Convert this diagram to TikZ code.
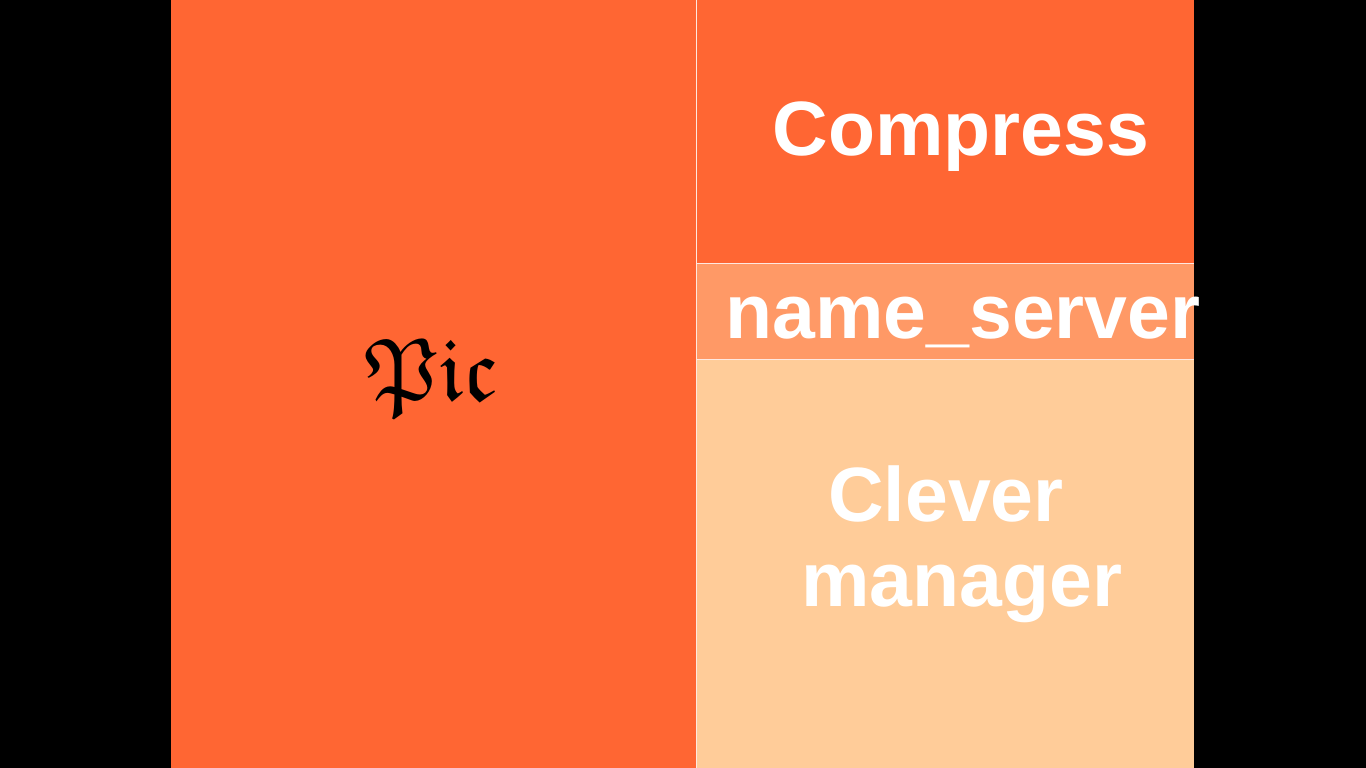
\documentclass[tikz,border=0pt]{standalone}
\usepackage{amssymb}
\usepackage{fontspec}
\setmainfont{Liberation Sans}
\definecolor{orangeA}{HTML}{FF6633}
\definecolor{orangeB}{HTML}{FF9966}
\definecolor{orangeC}{HTML}{FFCC99}
\tikzset{
  panel/.style={draw=none,inner sep=0pt,outer sep=0pt,anchor=north west},
  bigtext/.style={text=white,inner sep=0pt,anchor=base,font=\fontsize{77}{86}\selectfont\bfseries},
  divider/.style={draw=white!85!orangeA,line width=1pt}
}
\begin{document}
\begin{tikzpicture}[x=1pt,y=1pt]
\fill[black] (0,0) rectangle (1366,768);
\useasboundingbox (0,0) rectangle (1366,768);
\node[panel,fill=orangeA,minimum width=525pt,minimum height=768pt] (left) at (171,768) {};
\node[panel,fill=orangeA,minimum width=498pt,minimum height=264pt] (top) at (696,768) {};
\node[panel,fill=orangeB,minimum width=498pt,minimum height=96pt] (mid) at (696,504) {};
\node[panel,fill=orangeC,minimum width=498pt,minimum height=408pt] (bot) at (696,408) {};
\draw[divider] (left.north east) -- (left.south east);
\draw[divider] (top.south west) -- (top.south east);
\draw[divider] (mid.south west) -- (mid.south east);
\node[bigtext] (compress) at (961,612) {Compress};
\node[bigtext] (nameserver) at (963,429) {name\_server};
\node[bigtext] (clever) at (946,246) {Clever};
\node[bigtext] (manager) at (962,161) {manager};
\node[inner sep=0pt,anchor=base,text=black,font=\fontsize{89}{98}\selectfont] (pic) at (432,367) {$\mathfrak{Pic}$};
\end{tikzpicture}
\end{document}
